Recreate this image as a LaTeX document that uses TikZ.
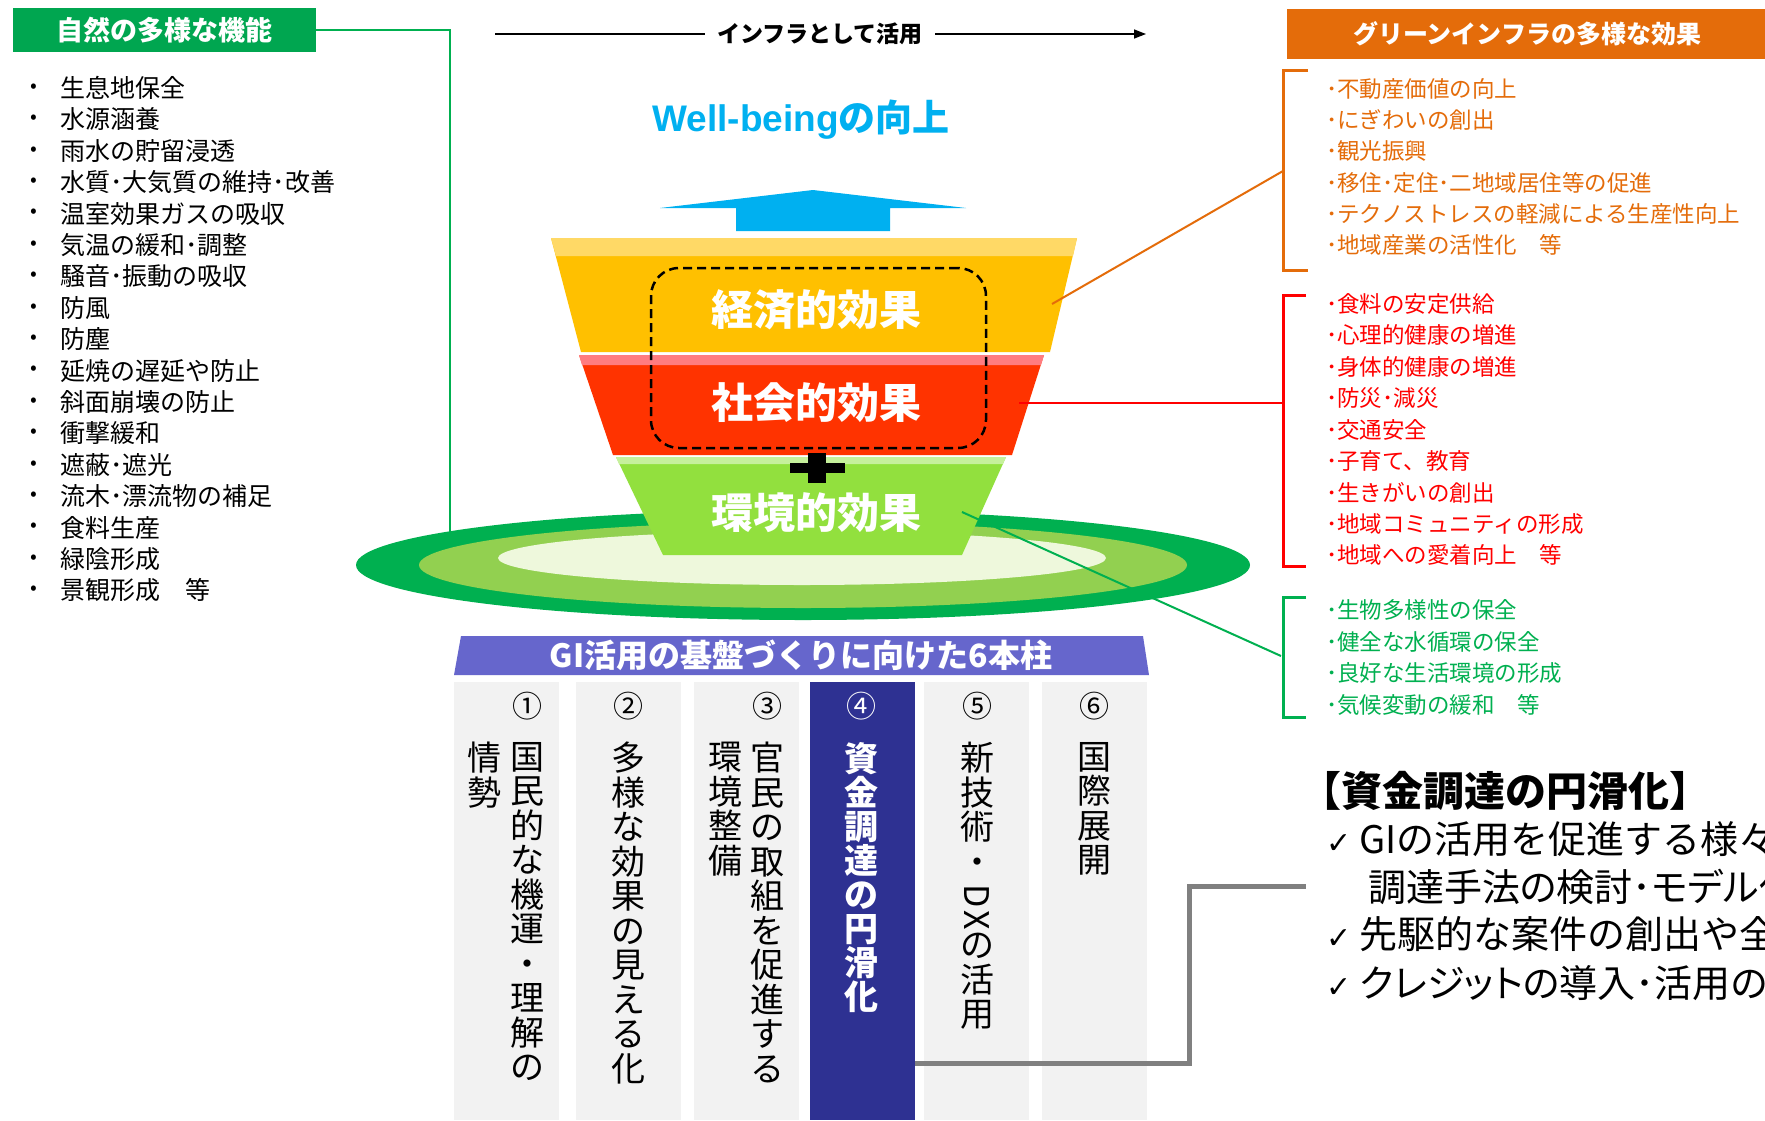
\documentclass[tikz,border=0pt]{standalone}
\usepackage{fontspec}
\setmainfont{Noto Sans CJK JP}
\newfontfamily\propfont{Noto Sans CJK JP}[RawFeature=+palt]
\newfontfamily\latinfont{Liberation Sans}
\newfontfamily\checkfont{DejaVu Sans}
\usetikzlibrary{arrows.meta}
\definecolor{natgreen}{HTML}{00A650}
\definecolor{effgreen}{HTML}{00B050}
\definecolor{effred}{HTML}{FF0000}
\definecolor{efforange}{HTML}{E46C0A}
\definecolor{wbblue}{HTML}{00B0F0}
\definecolor{yelbody}{HTML}{FFC000}
\definecolor{yeltop}{HTML}{FFD966}
\definecolor{redbody}{HTML}{FF3300}
\definecolor{redtop}{HTML}{FF7C80}
\definecolor{grnbody}{HTML}{92E03E}
\definecolor{grntop}{HTML}{C6F09C}
\definecolor{ringdark}{HTML}{00B050}
\definecolor{ringmid}{HTML}{92D050}
\definecolor{ringpale}{HTML}{EEF8DC}
\definecolor{barblue}{HTML}{6666CC}
\definecolor{navy}{HTML}{2E3192}
\definecolor{pillargray}{HTML}{F2F2F2}
\newcommand\setfs[1]{\fontsize{#1}{#1}\selectfont}
\newcommand\chk{{\checkfont\setfs{30}✓}\hspace{8pt}}

\begin{document}
\begin{tikzpicture}[x=1pt,y=-1pt,
  hdr/.style={anchor=north west,inner sep=0,text=white,font=\setfs{25}\bfseries},
  itm/.style={anchor=west,inner sep=0,font=\setfs{22.5}},
  bigtxt/.style={text=white,inner sep=0,font=\setfs{42}\bfseries},
  bracket/.style={line width=3},
  link/.style={line width=2},
  pillar/.style={anchor=north west,minimum width=105,minimum height=438,inner sep=0},
  vcol/.style={anchor=north,inner sep=0,align=center,font={\fontsize{34}{34.5}\selectfont}},
  num/.style={inner sep=0,font=\setfs{30}},
  fund/.style={anchor=west,inner sep=0,font=\setfs{38}}]

\fill[white] (0,0) rectangle (1765,1120);
\useasboundingbox (0,0) rectangle (1765,1120);

% left: functions of nature
\node[hdr,fill=natgreen,minimum width=303,minimum height=44] (natHdr) at (13,8) {};
\node[text=white,font=\setfs{27}\bfseries] (natTtl) at (natHdr.center) {自然の多様な機能};
\coordinate (natEnd) at (450,566);
\draw[effgreen,link] (natHdr.east) -| (natEnd);

\foreach \itm [count=\i] in {生息地保全,水源涵養,雨水の貯留浸透,水質･大気質の維持･改善,温室効果ガスの吸収,気温の緩和･調整,騒音･振動の吸収,防風,防塵,延焼の遅延や防止,斜面崩壊の防止,衝撃緩和,遮蔽･遮光,流木･漂流物の補足,食料生産,緑陰形成,景観形成　等}
{ \node[inner sep=0,font=\setfs{20}] (natDot\i) at (34,{88+31.4*(\i-1)}) {\textbullet};
  \node[itm,font=\setfs{25}] (nat\i) at (60,{88+31.4*(\i-1)}) {\itm}; }

% top arrow
\node[inner sep=12,font=\setfs{23}\bfseries] (infra) at (820,34) {インフラとして活用};
\coordinate (infraL) at (495,34);
\coordinate (infraR) at (1146,34);
\draw[line width=1.5] (infraL) -- (infra.west);
\draw[line width=1.5,-{Triangle[length=12,width=9]}] (infra.east) -- (infraR);

\node[text=wbblue,inner sep=0,font=\setfs{37}\bfseries] (wellb) at (801,120) {{\latinfont Well-being}の向上};
\fill[wbblue] (660,208) -- (813,190) -- (966,208) -- (890,208) -- (890,231) -- (736,231) -- (736,208) -- cycle;

% rings
\fill[ringdark] (803,565) ellipse [x radius=447,y radius=55];
\fill[ringmid] (803,565) ellipse [x radius=384,y radius=43];
\fill[ringpale] (802,558) ellipse [x radius=304,y radius=27];

% three layers
\fill[yelbody] (551,238) -- (1077,238) -- (1050,352) -- (581,352) -- cycle;
\fill[yeltop] (551,238) -- (1077,238) -- (1073,256) -- (556,256) -- cycle;
\fill[redbody] (579,355) -- (1044,355) -- (1012,455) -- (613,455) -- cycle;
\fill[redtop] (579,355) -- (1044,355) -- (1041,365) -- (582,365) -- cycle;
\fill[grnbody] (616,457) -- (1006,457) -- (962,555) -- (663,555) -- cycle;
\fill[grntop] (616,457) -- (1006,457) -- (1003,464) -- (619,464) -- cycle;

\node[draw,dashed,dash pattern=on 9pt off 5pt,line width=2.5,rounded corners=28,minimum width=335,minimum height=180,inner sep=0] (pairBox) at (818.5,358) {};
\node[bigtxt] (eco) at (816,310) {経済的効果};
\node[bigtxt] (soc) at (816,403) {社会的効果};
\node[bigtxt] (env) at (816,513) {環境的効果};
\fill (790,463) rectangle (845,473);
\fill (808,453) rectangle (826,483);

% right: effects
\node[hdr,fill=efforange,minimum width=478,minimum height=50] (effHdr) at (1287,9) {};
\node[text=white,font=\setfs{25}\bfseries] (effTtl) at (1527,34) {グリーンインフラの多様な効果};

\coordinate (ecoPt) at (1052,304);
\coordinate (ecoBr) at (1283,171);
\coordinate (socPt) at (1019,403);
\coordinate (socBr) at (1283,403);
\coordinate (envPt) at (962,512);
\coordinate (envBr) at (1281,656);
\draw[efforange,link] (ecoPt) -- (ecoBr);
\draw[effred,link] (socPt) -- (socBr);
\draw[effgreen,link] (envPt) -- (envBr);

\draw[efforange,bracket] (1308,70) -- (1283,70) -- (1283,270) -- (1308,270);
\draw[effred,bracket] (1306,295) -- (1283,295) -- (1283,566) -- (1306,566);
\draw[effgreen,bracket] (1306,597) -- (1283,597) -- (1283,717) -- (1306,717);

\foreach \itm [count=\i] in {不動産価値の向上,にぎわいの創出,観光振興,移住･定住･二地域居住等の促進,テクノストレスの軽減による生産性向上,地域産業の活性化　等}
{ \node[itm,text=efforange] (ecoItm\i) at (1326,{89+31.2*(\i-1)}) {･\itm}; }
\foreach \itm [count=\i] in {食料の安定供給,心理的健康の増進,身体的健康の増進,防災･減災,交通安全,子育て、教育,生きがいの創出,地域コミュニティの形成,地域への愛着向上　等}
{ \node[itm,text=effred] (socItm\i) at (1326,{304+31.4*(\i-1)}) {･\itm}; }
\foreach \itm [count=\i] in {生物多様性の保全,健全な水循環の保全,良好な生活環境の形成,気候変動の緩和　等}
{ \node[itm,text=effgreen] (envItm\i) at (1326,{610+31.6*(\i-1)}) {･\itm}; }

% six pillars
\fill[barblue] (461,636) -- (1143,636) -- (1149,675) -- (454,675) -- cycle;
\node[text=white,inner sep=0,font=\setfs{32}\bfseries] (barTtl) at (801,655) {GI活用の基盤づくりに向けた6本柱};

\foreach \x/\c [count=\i] in {454/pillargray,576/pillargray,694/pillargray,810/navy,924/pillargray,1042/pillargray}
{ \node[pillar,fill=\c] (col\i) at (\x,682) {}; }

\foreach \x/\n/\s [count=\i] in {527/①/black,628/②/black,767/③/black,861/④/white,977/⑤/black,1094/⑥/black}
{ \node[num,text=\s] (num\i) at (\x,706) {\n}; }

\node[vcol] (p1a) at (527,742) {国\\民\\的\\な\\機\\運\\・\\理\\解\\の};
\node[vcol] (p1b) at (484,742) {情\\勢};
\node[vcol] (p2) at (628,742) {多\\様\\な\\効\\果\\の\\見\\え\\る\\化};
\node[vcol] (p3a) at (767,742) {官\\民\\の\\取\\組\\を\\促\\進\\す\\る};
\node[vcol] (p3b) at (725,742) {環\\境\\整\\備};
\node[vcol,text=white,font={\fontsize{34}{34}\selectfont\bfseries}] (p4) at (861,742) {資\\金\\調\\達\\の\\円\\滑\\化};
\node[vcol] (p5) at (977,742) {新\\技\\術\\・\\\rotatebox[origin=c]{-90}{D}\\[-10pt]\rotatebox[origin=c]{-90}{X}\\[-10pt]の\\活\\用};
\node[vcol] (p6) at (1094,742) {国\\際\\展\\開};

% funding detail
\coordinate (fundPt) at (915,1063);
\coordinate (fundMid) at (1189,886);
\coordinate (fundEnd) at (1306,886);
\draw[gray,line width=5] (fundPt) -| (fundMid) -- (fundEnd);

\node[anchor=west,inner sep=0,font=\setfs{41}\bfseries] (fundTtl) at (1300,791) {【資金調達の円滑化】};
\node[fund] (fund1) at (1326,839) {\chk GIの活用を促進する様々};
\node[fund,font=\setfs{38}\propfont] (fund2) at (1368,887) {調達手法の検討･モデル化};
\node[fund] (fund3) at (1326,934) {\chk 先駆的な案件の創出や全};
\node[fund,font=\setfs{38}\propfont] (fund4) at (1326,983) {\chk クレジットの導入･活用の検};
\end{tikzpicture}
\end{document}
